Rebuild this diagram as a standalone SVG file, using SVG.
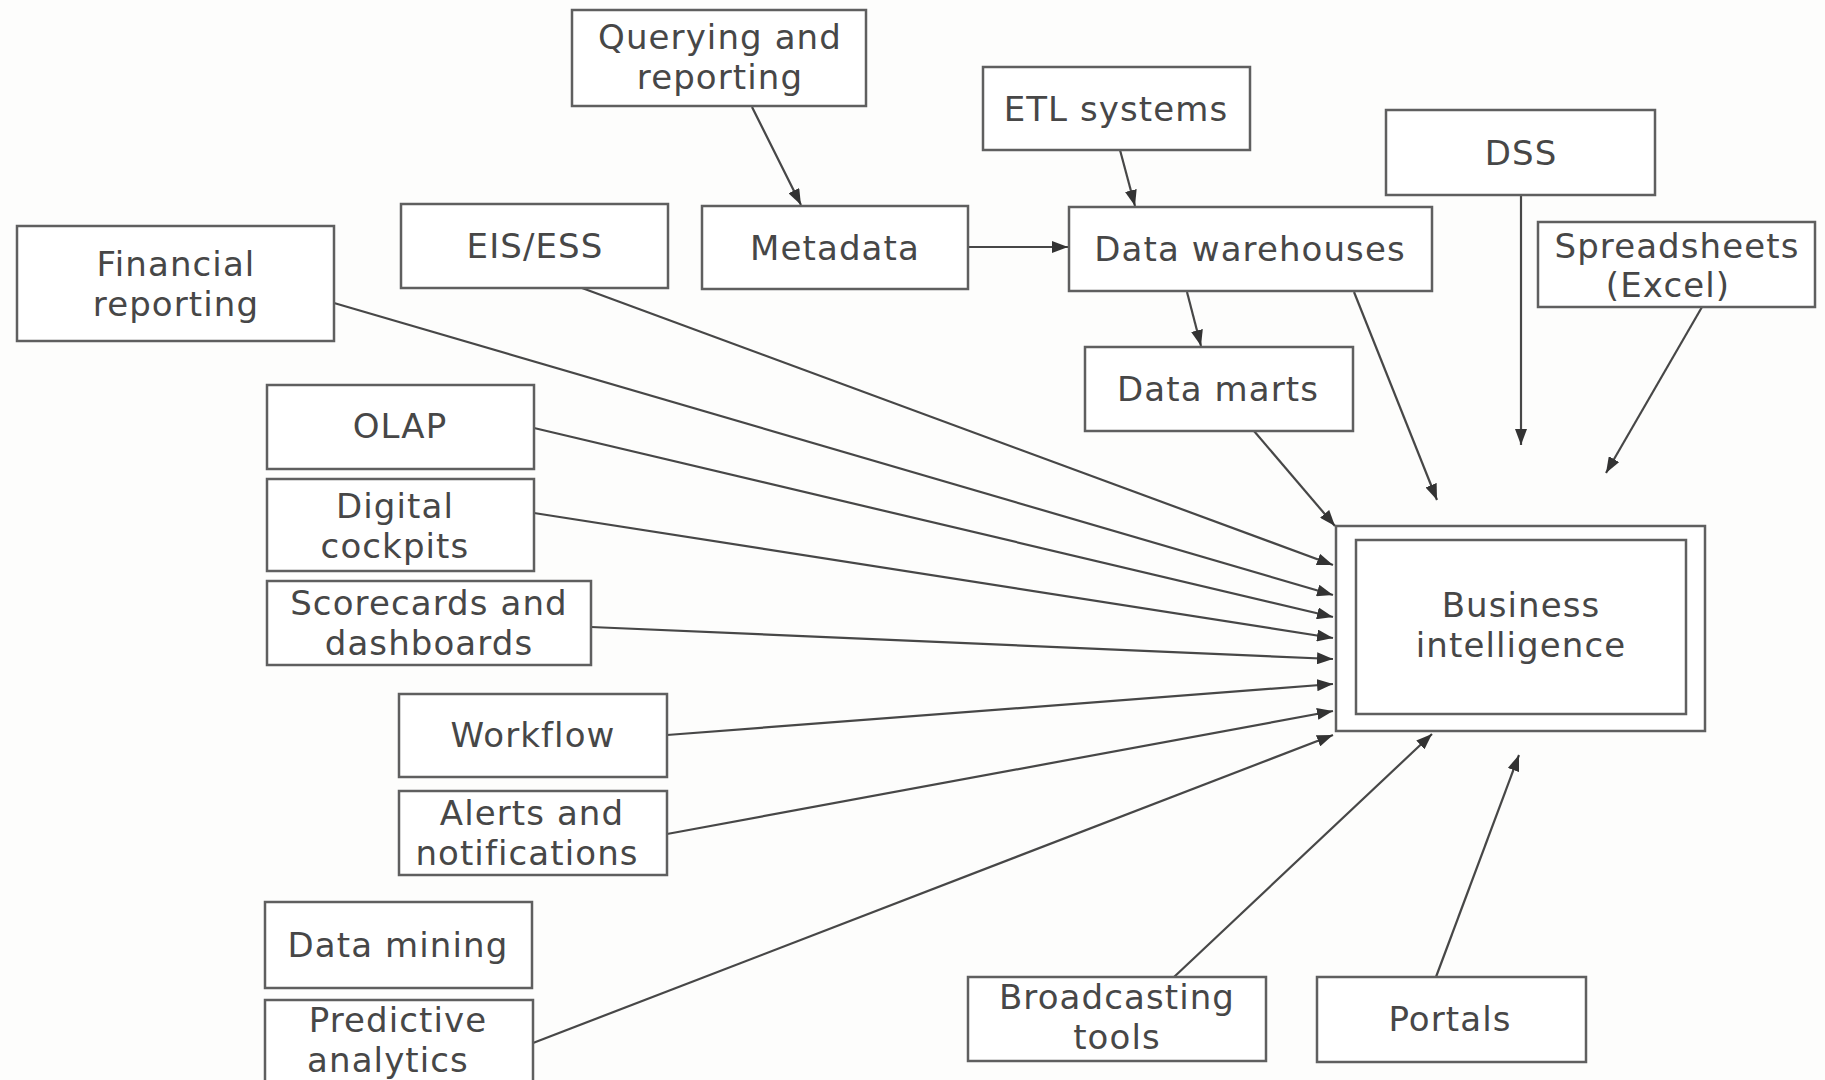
<svg xmlns="http://www.w3.org/2000/svg" width="1825" height="1080" viewBox="0 0 1825 1080">
  <style>
    .box { fill: #ffffff; stroke: #5f5f5f; stroke-width: 2.5; }
    .lbl { font-family: "DejaVu Sans", "Liberation Sans", sans-serif; font-size: 34px; letter-spacing: 1.1px; fill: #474747; text-anchor: middle; }
    .edge { fill: none; stroke: #474747; stroke-width: 2.2; marker-end: url(#arrow); }
  </style>
  <defs>
    <marker id="arrow" markerUnits="userSpaceOnUse" markerWidth="16" markerHeight="12" refX="16" refY="6" orient="auto">
      <path d="M0,0 L16,6 L0,12 z" fill="#333333"/>
    </marker>
  </defs>
  <rect x="0" y="0" width="1825" height="1080" fill="#fdfdfc"/>

  <!-- connectors -->
  <g id="connectors">
    <line class="edge" x1="752" y1="107" x2="801" y2="205"/>
    <line class="edge" x1="1120" y1="150" x2="1135" y2="206"/>
    <line class="edge" x1="968" y1="247" x2="1068" y2="247"/>
    <line class="edge" x1="1187" y1="292" x2="1201" y2="346"/>
    <line class="edge" x1="1354" y1="292" x2="1437" y2="500"/>
    <line class="edge" x1="1521" y1="195" x2="1521" y2="445"/>
    <line class="edge" x1="1702" y1="307" x2="1606" y2="473"/>
    <line class="edge" x1="1254" y1="431" x2="1335" y2="526"/>
    <line class="edge" x1="582" y1="288" x2="1333" y2="565"/>
    <line class="edge" x1="334" y1="303" x2="1333" y2="595"/>
    <line class="edge" x1="534" y1="428" x2="1333" y2="617"/>
    <line class="edge" x1="534" y1="513" x2="1333" y2="638"/>
    <line class="edge" x1="591" y1="627" x2="1333" y2="659"/>
    <line class="edge" x1="667" y1="735" x2="1333" y2="684"/>
    <line class="edge" x1="667" y1="834" x2="1333" y2="711"/>
    <line class="edge" x1="533" y1="1043" x2="1333" y2="735"/>
    <line class="edge" x1="1174" y1="977" x2="1432" y2="734"/>
    <line class="edge" x1="1436" y1="977" x2="1519" y2="755"/>
  </g>

  <!-- nodes -->
  <g id="querying">
    <rect class="box" x="572" y="10" width="294" height="96"/>
    <text class="lbl" x="720" y="49">Querying and</text>
    <text class="lbl" x="720" y="89">reporting</text>
  </g>
  <g id="etl">
    <rect class="box" x="983" y="67" width="267" height="83"/>
    <text class="lbl" x="1116" y="121">ETL systems</text>
  </g>
  <g id="dss">
    <rect class="box" x="1386" y="110" width="269" height="85"/>
    <text class="lbl" x="1521" y="165">DSS</text>
  </g>
  <g id="eis">
    <rect class="box" x="401" y="204" width="267" height="84"/>
    <text class="lbl" x="535" y="258">EIS/ESS</text>
  </g>
  <g id="metadata">
    <rect class="box" x="702" y="206" width="266" height="83"/>
    <text class="lbl" x="835" y="260">Metadata</text>
  </g>
  <g id="warehouses">
    <rect class="box" x="1069" y="207" width="363" height="84"/>
    <text class="lbl" x="1250" y="261">Data warehouses</text>
  </g>
  <g id="spreadsheets">
    <rect class="box" x="1538" y="222" width="277" height="85"/>
    <text class="lbl" x="1677" y="258">Spreadsheets</text>
    <text class="lbl" x="1668" y="297">(Excel)</text>
  </g>
  <g id="financial">
    <rect class="box" x="17" y="226" width="317" height="115"/>
    <text class="lbl" x="176" y="276">Financial</text>
    <text class="lbl" x="176" y="316">reporting</text>
  </g>
  <g id="marts">
    <rect class="box" x="1085" y="347" width="268" height="84"/>
    <text class="lbl" x="1218" y="401">Data marts</text>
  </g>
  <g id="olap">
    <rect class="box" x="267" y="385" width="267" height="84"/>
    <text class="lbl" x="400" y="438">OLAP</text>
  </g>
  <g id="cockpits">
    <rect class="box" x="267" y="479" width="267" height="92"/>
    <text class="lbl" x="395" y="518">Digital</text>
    <text class="lbl" x="395" y="558">cockpits</text>
  </g>
  <g id="scorecards">
    <rect class="box" x="267" y="581" width="324" height="84"/>
    <text class="lbl" x="429" y="615">Scorecards and</text>
    <text class="lbl" x="429" y="655">dashboards</text>
  </g>
  <g id="workflow">
    <rect class="box" x="399" y="694" width="268" height="83"/>
    <text class="lbl" x="533" y="747">Workflow</text>
  </g>
  <g id="alerts">
    <rect class="box" x="399" y="791" width="268" height="84"/>
    <text class="lbl" x="532" y="825">Alerts and</text>
    <text class="lbl" x="527" y="865">notifications</text>
  </g>
  <g id="mining">
    <rect class="box" x="265" y="902" width="267" height="86"/>
    <text class="lbl" x="398" y="957">Data mining</text>
  </g>
  <g id="predictive">
    <rect class="box" x="265" y="1000" width="268" height="92"/>
    <text class="lbl" x="398" y="1032">Predictive</text>
    <text class="lbl" x="388" y="1072">analytics</text>
  </g>
  <g id="broadcasting">
    <rect class="box" x="968" y="977" width="298" height="84"/>
    <text class="lbl" x="1117" y="1009">Broadcasting</text>
    <text class="lbl" x="1117" y="1049">tools</text>
  </g>
  <g id="portals">
    <rect class="box" x="1317" y="977" width="269" height="85"/>
    <text class="lbl" x="1450" y="1031">Portals</text>
  </g>
  <g id="bi">
    <rect class="box" x="1336" y="526" width="369" height="205"/>
    <rect class="box" x="1356" y="540" width="330" height="174"/>
    <text class="lbl" x="1521" y="617">Business</text>
    <text class="lbl" x="1521" y="657">intelligence</text>
  </g>
</svg>
